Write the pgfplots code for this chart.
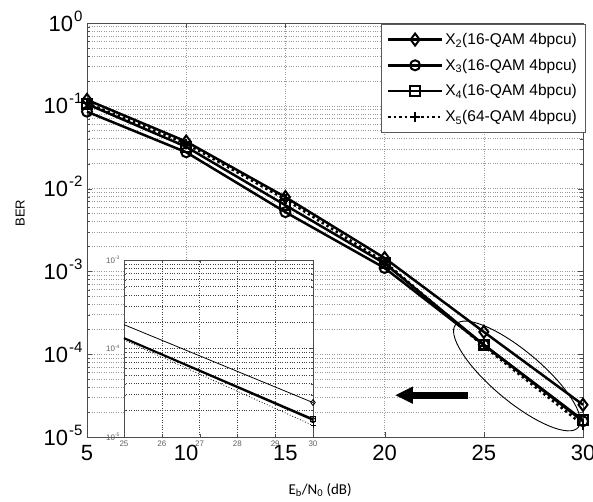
\documentclass[border=0pt]{standalone}
\usepackage{pgfplots}
\pgfplotsset{compat=1.18}
\usepackage{fontspec}
\setmainfont{Liberation Sans}
\newfontfamily\carlito{Carlito}
\usetikzlibrary{arrows.meta,shapes.geometric}
\newcommand{\tl}[1]{10\kern1pt\raisebox{10pt}{\fontsize{15}{15}\selectfont #1}}
\newcommand{\stl}[1]{10\raisebox{3.5pt}{\fontsize{5}{5}\selectfont #1}}
\begin{document}
\begin{tikzpicture}
\path[use as bounding box] (-87pt,-64pt) rectangle (506pt,437pt);
\begin{axis}[
  at={(0pt,0pt)}, anchor=south west,
  width=496pt, height=414pt, scale only axis,
  ymode=log, xmin=5, xmax=30, ymin=1e-5, ymax=1,
  clip=false,
  xtick={5,10,15,20,25,30}, xticklabels={5,10,15,20,25,30},
  ytick={1e-5,1e-4,1e-3,1e-2,1e-1,1},
  yticklabels={\tl{-5},\tl{-4},\tl{-3},\tl{-2},\tl{-1},\tl{0}},
  ticklabel style={font=\fontsize{22}{24}\selectfont},
  yticklabel style={anchor=base east, yshift=-8pt, xshift=-1pt},
  xticklabel style={yshift=-5pt},
  axis line style={gray!60!black},
  tick style={gray!60!black},
  tick align=inside,
  major tick length=5pt, minor tick length=3pt,
  xmajorgrids, ymajorgrids, yminorgrids,
  major grid style={dotted, gray!80, line width=0.6pt},
  minor grid style={dotted, gray!80, line width=0.6pt},
  ylabel={BER},
  ylabel style={at={(axis description cs:-0.135,0.541)}, anchor=center, font=\fontsize{13}{15}\selectfont},
  xlabel={\carlito E\textsubscript{b}/N\textsubscript{0} (dB)},
  xlabel style={at={(axis description cs:0.47,-0.128)}, anchor=center, font=\fontsize{15}{17}\selectfont},
  legend style={at={(rel axis cs:1,1)}, anchor=north east, xshift=2pt, yshift=-1pt,
    draw=gray!70!black, fill=white, font=\fontsize{15.5}{18}\selectfont,
    row sep=9pt, inner xsep=6pt, inner ysep=7pt},
  legend cell align=left,
  legend image code/.code={\draw[mark repeat=2,mark phase=2] plot coordinates {(0pt,0pt) (27pt,0pt) (54pt,0pt)};},
]
\addplot[black, line width=2.5pt, mark=diamond, mark size=6pt, mark options={solid, fill=white, line width=2pt}]
  coordinates {(5,0.118)(10,0.037)(15,0.0079)(20,0.00145)(25,1.86e-4)(30,2.45e-5)};
\addlegendentry{X\textsubscript{2}(16-QAM 4bpcu)}
\addplot[black, line width=2.5pt, mark=o, mark size=5pt, mark options={solid, fill=white, line width=2pt}]
  coordinates {(5,0.085)(10,0.0275)(15,0.0052)(20,0.0011)(25,1.3e-4)(30,1.55e-5)};
\addlegendentry{X\textsubscript{3}(16-QAM 4bpcu)}
\addplot[black, line width=2.5pt, mark=square, mark size=5pt, mark options={solid, fill=white, line width=2pt}]
  coordinates {(5,0.105)(10,0.032)(15,0.0063)(20,0.00125)(25,1.3e-4)(30,1.6e-5)};
\addlegendentry{X\textsubscript{4}(16-QAM 4bpcu)}
\addplot[black, line width=2.5pt, dash pattern=on 2.5pt off 3pt, mark=+, mark size=5pt, mark options={solid, line width=2.5pt}]
  coordinates {(5,0.108)(10,0.035)(15,0.0074)(20,0.0013)(25,1.25e-4)(30,1.4e-5)};
\addlegendentry{X\textsubscript{5}(64-QAM 4bpcu)}
\node[draw=black, line width=0.9pt, ellipse, minimum width=160pt, minimum height=50pt, inner sep=0pt, rotate=-40]
  at (axis cs:26.67,5.46e-5) {};
\draw[black, line width=7pt, -{Triangle[length=18pt,width=16pt]}] (axis cs:24.2,3.2e-5) -- (axis cs:20.52,3.2e-5);
\end{axis}
\begin{axis}[
  at={(37pt,0pt)}, anchor=south west,
  width=189pt, height=177pt, scale only axis,
  ymode=log, xmin=25, xmax=30, ymin=1e-5, ymax=1e-3,
  axis background/.style={fill=white},
  xtick={25,26,27,28,29,30}, xticklabels={25,26,27,28,29,30},
  ytick={1e-5,1e-4,1e-3},
  yticklabels={\stl{-5},\stl{-4},\stl{-3}},
  ticklabel style={font=\fontsize{8}{9}\selectfont, text=gray!75!black},
  yticklabel style={xshift=-1pt},
  axis line style={gray!60!black},
  tick style={gray!60!black},
  tick align=inside,
  major tick length=3pt, minor tick length=2pt,
  xmajorgrids, ymajorgrids, yminorgrids,
  major grid style={dotted, black!75, line width=0.6pt},
  minor grid style={dotted, black!75, line width=0.6pt},
  clip=false,
]
\addplot[black, line width=0.8pt, mark=diamond, mark size=3pt, mark indices={2}, mark options={solid, fill=white, line width=0.8pt}]
  coordinates {(25,1.86e-4)(30,2.45e-5)};
\addplot[black, line width=1.5pt, mark=o, mark size=2.5pt, mark indices={2}, mark options={solid, fill=white, line width=0.8pt}]
  coordinates {(25,1.3e-4)(30,1.55e-5)};
\addplot[black, line width=1.5pt, mark=square, mark size=2.5pt, mark indices={2}, mark options={solid, fill=white, line width=0.8pt}]
  coordinates {(25,1.32e-4)(30,1.6e-5)};
\addplot[black, line width=0.8pt, dotted, mark=+, mark size=2.5pt, mark indices={2}, mark options={solid, line width=0.8pt}]
  coordinates {(25,1.25e-4)(30,1.35e-5)};
\end{axis}
\end{tikzpicture}
\end{document}
